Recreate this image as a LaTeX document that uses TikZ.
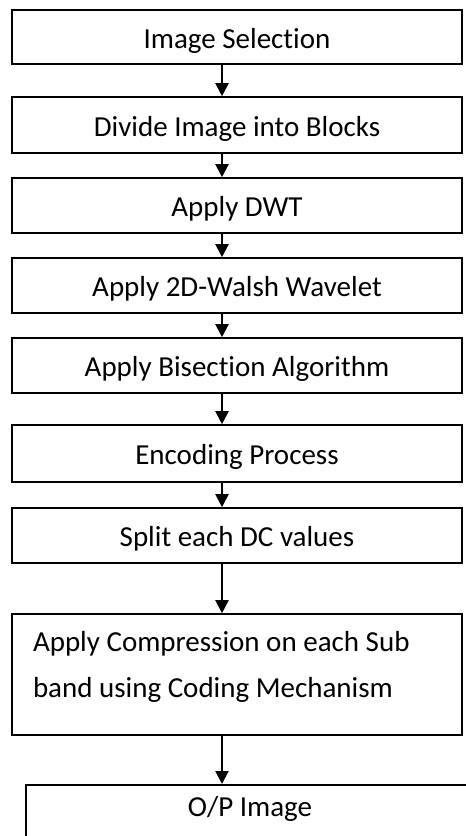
\documentclass[tikz,border=0pt]{standalone}
\usepackage{fontspec}
\setmainfont{Carlito}[Ligatures=NoCommon]
\usetikzlibrary{arrows.meta}
\begin{document}
\begin{tikzpicture}[x=1pt,y=-1pt,
  stepfont/.style={font=\fontsize{29}{34}\selectfont},
  stepbox/.style={draw, line width=1.6pt, minimum width=450pt, inner sep=0pt,
    text height=22pt, text depth=0pt, stepfont},
  flow/.style={line width=2pt, -{Triangle[width=13pt,length=13pt]}}]
\useasboundingbox (0,0) rectangle (466,836);
\clip (0,0) rectangle (466,836);
\fill[white] (0,0) rectangle (466,836);

% process steps
\node[stepbox, minimum height=54pt] (b1) at (237,37) {Image Selection};
\node[stepbox, minimum height=56pt] (b2) at (237,125) {Divide Image into Blocks};
\node[stepbox, minimum height=55pt] (b3) at (237,205.5) {Apply DWT};
\node[stepbox, minimum height=55pt] (b4) at (237,285.5) {Apply 2D-Walsh Wavelet};
\node[stepbox, minimum height=55pt] (b5) at (237,365.5) {Apply Bisection Algorithm};
\node[stepbox, minimum height=57pt] (b6) at (237,453.5) {Encoding Process};
\node[stepbox, minimum height=55pt] (b7) at (237,535.5) {Split each DC values};
\node[draw, line width=1.6pt, minimum width=450pt, minimum height=121pt,
  inner xsep=21pt, inner ysep=0pt, text width=408pt, align=flush left,
  font=\fontsize{29}{46}\selectfont] (b8) at (237,674.5)
  {Apply Compression on each Sub\\band using Coding Mechanism\rule[-21pt]{0pt}{0pt}};
\node[draw, line width=1.6pt, minimum width=448pt, inner sep=0pt, anchor=north,
  text height=32pt, text depth=80pt, stepfont]
  (b9) at (250,784) {O/P Image};

% connectors run on a common vertical line
\coordinate (ax) at (222,0);
\foreach \a/\b in {b1/b2,b2/b3,b3/b4,b4/b5,b5/b6,b6/b7,b7/b8,b8/b9}
  \draw[flow] (\a.south -| ax) -- (\b.north -| ax);
\end{tikzpicture}
\end{document}
